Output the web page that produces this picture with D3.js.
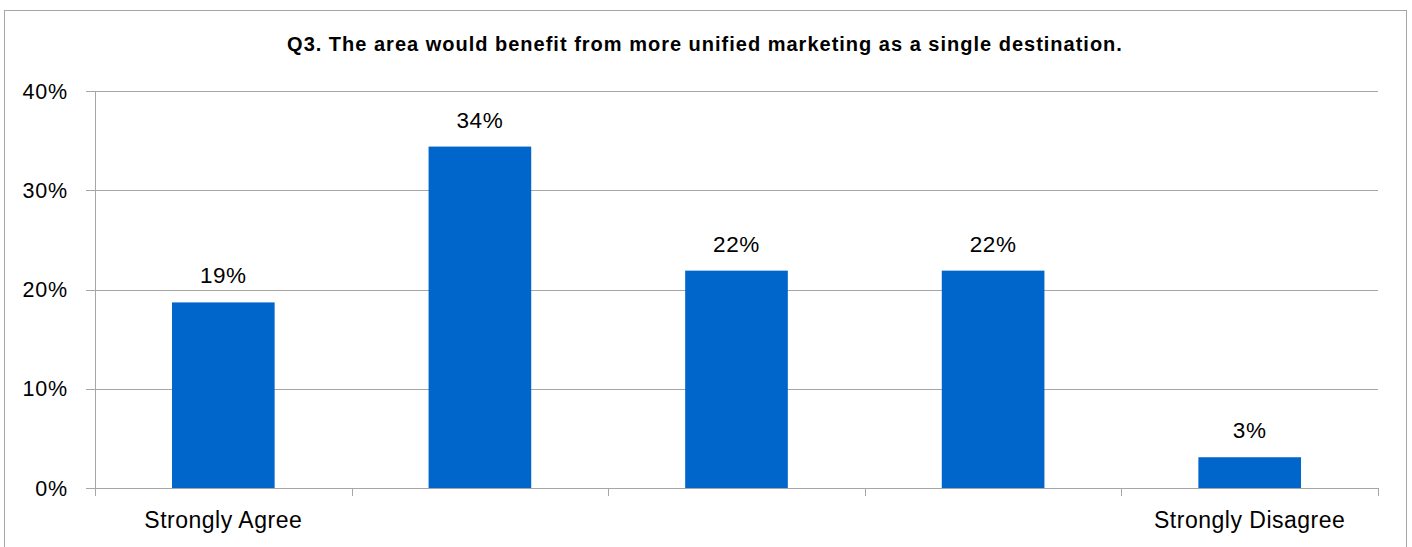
<!DOCTYPE html>
<html><head><meta charset="utf-8">
<script src="https://cdn.jsdelivr.net/npm/d3@7"></script>
<style>
html,body{margin:0;padding:0;background:#fff;}
svg{display:block;font-family:"Liberation Sans",Arial,sans-serif;}
</style></head>
<body>
<svg id="chart" width="1412" height="547"></svg>
<script>
const categories = ["c1","c2","c3","c4","c5"];
const categoryLabels = ["Strongly Agree","","","","Strongly Disagree"];
const values = [0.187, 0.344, 0.219, 0.219, 0.031];
const yTicks = [0, 0.1, 0.2, 0.3, 0.4];
const title = "Q3. The area would benefit from more unified marketing as a single destination.";

const svg = d3.select("#chart");
const m = {left: 95, right: 1378, top: 91, bottom: 488};

// outer border
svg.append("rect").attr("x",4.5).attr("y",10.5).attr("width",1402).attr("height",560)
  .attr("fill","#fff").attr("stroke","#a6a6a6").attr("stroke-width",1);

const x = d3.scaleBand().domain(categories).range([m.left, m.right]).paddingInner(0.6).paddingOuter(0.3);
const y = d3.scaleLinear().domain([0, 0.4]).range([m.bottom, m.top]);

// gridlines
svg.append("g").selectAll("line").data(yTicks).join("line")
  .attr("x1", m.left - 9).attr("x2", m.right)
  .attr("y1", d => Math.round(y(d)) + 0.5).attr("y2", d => Math.round(y(d)) + 0.5)
  .attr("stroke", "#a6a6a6").attr("stroke-width", 1);

// y axis line
svg.append("line").attr("x1", m.left + 0.5).attr("x2", m.left + 0.5)
  .attr("y1", m.top).attr("y2", m.bottom + 8)
  .attr("stroke", "#a6a6a6");

// category boundary ticks
const bounds = d3.range(categories.length + 1).map(i => m.left + i * (m.right - m.left) / categories.length);
svg.append("g").selectAll("line").data(bounds).join("line")
  .attr("x1", d => Math.round(d) + 0.5).attr("x2", d => Math.round(d) + 0.5)
  .attr("y1", m.bottom).attr("y2", m.bottom + 8)
  .attr("stroke", "#a6a6a6");

// y tick labels
svg.append("g").selectAll("text").data(yTicks).join("text")
  .attr("x", 68).attr("y", d => y(d)).attr("dy", "0.36em")
  .attr("text-anchor", "end").attr("font-size", 21.5).attr("letter-spacing", 0.8).attr("fill", "#000")
  .text(d3.format(".0%"));

// bars
svg.append("g").selectAll("rect").data(values).join("rect")
  .attr("x", (d, i) => x(categories[i])).attr("width", x.bandwidth())
  .attr("y", d => y(d)).attr("height", d => y(0) - y(d))
  .attr("fill", "#0066CC");

// data labels
svg.append("g").selectAll("text").data(values).join("text")
  .attr("x", (d, i) => x(categories[i]) + x.bandwidth() / 2)
  .attr("y", d => y(d) - 19)
  .attr("text-anchor", "middle").attr("font-size", 22.5).attr("letter-spacing", 0.6).attr("fill", "#000")
  .text(d => d3.format(".0%")(d));

// category labels
svg.append("g").selectAll("text").data(categoryLabels).join("text")
  .attr("x", (d, i) => x(categories[i]) + x.bandwidth() / 2)
  .attr("y", 528)
  .attr("text-anchor", "middle").attr("font-size", 23).attr("letter-spacing", 0.5).attr("fill", "#000")
  .text(d => d);

// title
svg.append("text").attr("x", 705).attr("y", 51)
  .attr("text-anchor", "middle").attr("font-size", 20).attr("font-weight", "bold")
  .attr("letter-spacing", 1).attr("fill", "#000")
  .text(title);
</script>
</body></html>
